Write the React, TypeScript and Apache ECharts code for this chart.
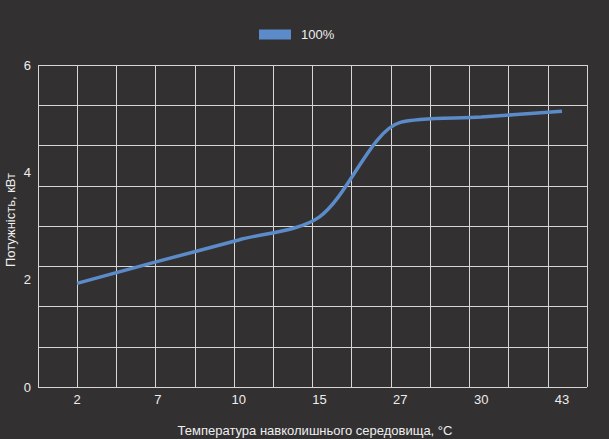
import { useEffect, useRef } from "react";
import * as echarts from "echarts";

const categories = ["2", "7", "10", "15", "27", "30", "43"];
const power = [1.93, 2.34, 2.74, 3.17, 4.93, 5.03, 5.14];
const seriesName = "100%";
const xTitle = "Температура навколишнього середовища, °C";
const yTitle = "Потужність, кВт";

const FONT = "Liberation Sans, Arial, sans-serif";
const TEXT = "#eeeeee";
const GRID_LINE = "#d6d6d6";
const LINE_COLOR = "#5b8bc8";

export default function App() {
  const chartRef = useRef<HTMLDivElement>(null);

  useEffect(() => {
    if (!chartRef.current) return;
    const chart = echarts.init(chartRef.current, null, { renderer: "svg" });

    const option = {
      animation: false,
      backgroundColor: "#323031",
      textStyle: { fontFamily: FONT },
      legend: {
        left: 259,
        top: 28,
        padding: 0,
        itemWidth: 32,
        itemHeight: 10,
        icon: "rect",
        data: [{ name: seriesName, itemStyle: { color: LINE_COLOR } }],
        textStyle: { color: TEXT, fontSize: 13, fontFamily: FONT, padding: [0, 0, 0, 5] }
      },
      grid: [
        { left: 38, right: 22, top: 65, bottom: 52 },
        { left: 77, right: 47, top: 65, bottom: 52 }
      ],
      xAxis: [
        {
          gridIndex: 0,
          type: "value",
          min: 0,
          max: 14,
          interval: 1,
          axisLabel: { show: false },
          axisLine: { show: false },
          axisTick: { show: false },
          splitLine: { show: true, lineStyle: { color: GRID_LINE, width: 1 } }
        },
        {
          gridIndex: 1,
          type: "category",
          boundaryGap: false,
          data: categories,
          axisLine: { show: false },
          axisTick: { show: false },
          splitLine: { show: false },
          axisLabel: { color: TEXT, fontSize: 13, fontFamily: FONT, margin: 6 }
        }
      ],
      yAxis: [
        {
          gridIndex: 0,
          type: "value",
          position: "left",
          min: 0,
          max: 8,
          interval: 1,
          axisLabel: { show: false },
          axisLine: { show: false },
          axisTick: { show: false },
          splitLine: { show: true, lineStyle: { color: GRID_LINE, width: 1 } }
        },
        {
          gridIndex: 0,
          type: "value",
          position: "left",
          offset: 0,
          min: 0,
          max: 6,
          interval: 2,
          axisLine: { show: false },
          axisTick: { show: false },
          splitLine: { show: false },
          axisLabel: { color: TEXT, fontSize: 13, fontFamily: FONT, margin: 7 }
        },
        {
          gridIndex: 1,
          type: "value",
          min: 0,
          max: 6,
          show: false,
          splitLine: { show: false }
        }
      ],
      graphic: [
        {
          type: "text",
          x: 315,
          y: 430,
          style: {
            text: xTitle,
            fill: TEXT,
            font: `13px ${FONT}`,
            textAlign: "center",
            textVerticalAlign: "middle"
          }
        },
        {
          type: "text",
          x: 10,
          y: 220,
          rotation: Math.PI / 2,
          style: {
            text: yTitle,
            fill: TEXT,
            font: `13px ${FONT}`,
            textAlign: "center",
            textVerticalAlign: "middle"
          }
        }
      ],
      series: [
        {
          name: seriesName,
          type: "line",
          xAxisIndex: 1,
          yAxisIndex: 2,
          data: power,
          smooth: 0.3,
          symbol: "none",
          lineStyle: { color: LINE_COLOR, width: 3.5 },
          itemStyle: { color: LINE_COLOR }
        }
      ]
    };

    chart.setOption(option);
    return () => {
      chart.dispose();
    };
  }, []);

  return (
    <div
      ref={chartRef}
      style={{ position: "fixed", left: 0, top: 0, width: "609px", height: "439px" }}
    />
  );
}
